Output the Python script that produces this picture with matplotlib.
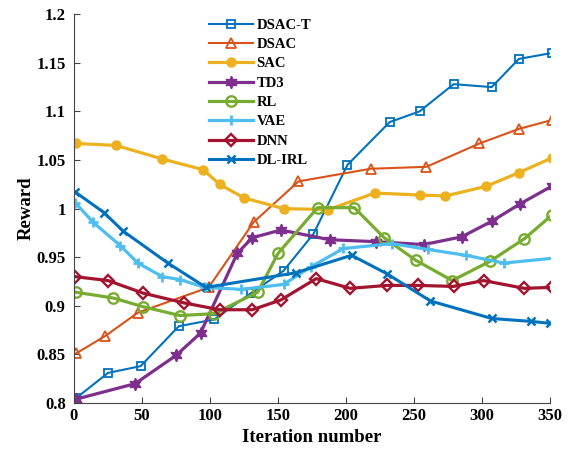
import numpy as np
import matplotlib
matplotlib.use("Agg")
import matplotlib.pyplot as plt

plt.rcParams['font.family'] = ['Liberation Serif', 'DejaVu Serif']
plt.rcParams['font.weight'] = 'bold'

# data
dsact_x = [1.5, 25, 49, 77, 103, 130, 154, 176, 201, 232, 254, 279, 307, 327, 351]
dsact_y = [0.805, 0.831, 0.838, 0.879, 0.886, 0.913, 0.936, 0.974, 1.045, 1.089, 1.100, 1.128, 1.125, 1.154, 1.160]

dsac_x = [1.5, 23, 47, 99, 132, 165, 218, 259, 298, 327, 351]
dsac_y = [0.851, 0.869, 0.893, 0.919, 0.986, 1.028, 1.041, 1.043, 1.067, 1.082, 1.091]

sac_x = [1.5, 31, 65, 95, 107, 125, 154, 187, 221, 254, 273, 303, 327, 351]
sac_y = [1.067, 1.065, 1.051, 1.040, 1.025, 1.011, 1.000, 0.999, 1.016, 1.014, 1.013, 1.023, 1.037, 1.052]

td3_x = [1.5, 45, 75, 93, 120, 131, 152, 188, 222, 257, 285, 307, 328, 351]
td3_y = [0.804, 0.820, 0.849, 0.872, 0.954, 0.970, 0.978, 0.968, 0.966, 0.963, 0.971, 0.987, 1.005, 1.023]

rl_x = [1.5, 29, 51, 78, 103, 135, 150, 179, 206, 228, 251, 278, 306, 331, 351]
rl_y = [0.914, 0.908, 0.899, 0.890, 0.892, 0.914, 0.954, 1.001, 1.001, 0.970, 0.947, 0.926, 0.946, 0.969, 0.993]

vae_x = [1, 14, 34, 47, 65, 78, 96, 123, 154, 174, 198, 234, 260, 288, 316, 352]
vae_y = [1.006, 0.986, 0.962, 0.944, 0.930, 0.927, 0.919, 0.917, 0.922, 0.940, 0.959, 0.964, 0.958, 0.952, 0.944, 0.949]

dnn_x = [1, 25, 51, 81, 107, 131, 152, 178, 203, 230, 253, 279, 301, 331, 351]
dnn_y = [0.930, 0.926, 0.913, 0.903, 0.896, 0.896, 0.906, 0.928, 0.918, 0.921, 0.921, 0.920, 0.926, 0.918, 0.919]

dlirl_x = [1, 22, 36, 69, 97, 163, 204, 230, 262, 307, 336, 350]
dlirl_y = [1.017, 0.996, 0.977, 0.944, 0.919, 0.934, 0.952, 0.933, 0.905, 0.887, 0.884, 0.882]

fig = plt.figure(figsize=(5.69, 4.57), dpi=100)
ax = fig.add_axes([0.130, 0.118, 0.837, 0.851])

ax.plot(dsact_x, dsact_y, color='#0072BD', lw=1.5, marker='s', ms=5.5, mfc='none', mew=1.3, label='DSAC-T')
ax.plot(dsac_x, dsac_y, color='#D95319', lw=1.5, marker='^', ms=7.5, mfc='none', mew=1.3, label='DSAC')
ax.plot(sac_x, sac_y, color='#EDB120', lw=2.3, marker='o', ms=6.5, label='SAC')
ax.plot(td3_x, td3_y, color='#7E2F8E', lw=2.3, marker=(6, 1, 0), ms=9, label='TD3')
ax.plot(rl_x, rl_y, color='#77AC30', lw=2.3, marker='o', ms=7.5, mfc='none', mew=1.7, label='RL')
ax.plot(vae_x, vae_y, color='#4DBEEE', lw=2.3, marker='+', ms=7, mew=2, label='VAE')
ax.plot(dnn_x, dnn_y, color='#A2142F', lw=2.3, marker='D', ms=6.5, mfc='none', mew=1.7, label='DNN')
ax.plot(dlirl_x, dlirl_y, color='#0072BD', lw=2.2, marker='x', ms=6, mew=1.8, label='DL-IRL')

ax.set_xlim(0, 350)
ax.set_ylim(0.8, 1.2)
ax.set_xticks(np.arange(0, 351, 50))
ax.set_yticks([0.8, 0.85, 0.9, 0.95, 1.0, 1.05, 1.1, 1.15, 1.2])
ax.set_yticklabels(['0.8', '0.85', '0.9', '0.95', '1', '1.05', '1.1', '1.15', '1.2'])
ax.tick_params(direction='in', labelsize=12, color='#444444', length=4)
ax.tick_params(axis='y', pad=6)
for s in ['top', 'right']:
    ax.spines[s].set_visible(False)
for s in ['left', 'bottom']:
    ax.spines[s].set_color('#444444')

ax.set_xlabel('Iteration number', fontsize=13.5, fontweight='bold', labelpad=4)
ax.set_ylabel('Reward', fontsize=13.5, fontweight='bold', labelpad=1)

ax.legend(loc='upper left', bbox_to_anchor=(0.262, 1.015), frameon=False, fontsize=10.5,
          handlelength=3.0, handletextpad=0.25, labelspacing=0.42, borderaxespad=0.3)

fig.savefig('out.png', dpi=100)
